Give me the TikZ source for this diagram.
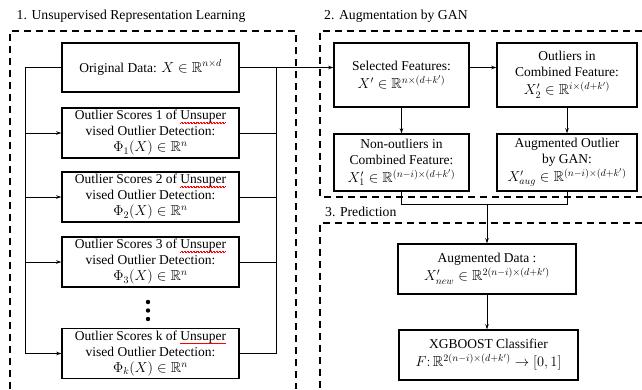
\documentclass[tikz,border=0pt]{standalone}
\usepackage{fontspec}
\setmainfont{Liberation Serif}
\usepackage{amssymb}
\usetikzlibrary{arrows.meta}
\newsavebox\wavebox
\newcommand\redwave[1]{\sbox\wavebox{#1}\makebox[\wd\wavebox][l]{\rlap{\color{red}\leaders\hbox{\rule[-3.1pt]{0.55pt}{0.4pt}\rule[-2.6pt]{0.55pt}{0.4pt}\hskip0.35pt}\hskip\wd\wavebox}\usebox\wavebox}}
\newcommand\fs{\fontsize{13.5}{16}\selectfont}
\newcommand\mth[1]{{\fontsize{14.5}{16}\selectfont$#1$}}
\tikzset{
  box/.style={draw, line width=1.5pt, align=center, inner sep=1pt, font=\fs},
  dbox/.style={line width=1.4pt, dash pattern=on 7pt off 5pt},
  conn/.style={line width=0.8pt},
  arr/.style={conn, -{Stealth[length=5pt,width=3.5pt]}},
  ttl/.style={anchor=west, font=\fontsize{13.7}{16}\selectfont, inner sep=0pt}
}
\begin{document}
\begin{tikzpicture}[x=1pt,y=-1pt]
\useasboundingbox (0,0) rectangle (642,389);
% dashed frames
\draw[dbox] (10,389) -- (10,31) -- (296,31) -- (296,389);
\draw[dbox] (642,31) -- (320,31) -- (320,197) -- (642,197);
\draw[dbox] (642,223) -- (320,223) -- (320,389);
% titles
\node[ttl] (t1) at (16.5,16) {1. Unsupervised Representation Learning};
\node[ttl] (t2) at (324,16) {2. Augmentation by GAN};
\node[ttl] (t3) at (325,212) {3. Prediction};
% left column
\node[box, minimum width=177pt, minimum height=49pt] (od) at (150.5,67.5) {Original Data: \mth{X \in \mathbb{R}^{n\times d}}};
\node[box, minimum width=177pt, minimum height=50pt] (s1) at (150.5,133) {Outlier Scores 1 of \redwave{Unsuper}\\ vised Outlier Detection:\\ \mth{\Phi_1(X) \in \mathbb{R}^{n}}};
\node[box, minimum width=177pt, minimum height=50pt] (s2) at (150.5,197) {Outlier Scores 2 of \redwave{Unsuper}\\ vised Outlier Detection:\\ \mth{\Phi_2(X) \in \mathbb{R}^{n}}};
\node[box, minimum width=177pt, minimum height=50pt] (s3) at (150.5,262) {Outlier Scores 3 of \redwave{Unsuper}\\ vised Outlier Detection:\\ \mth{\Phi_3(X) \in \mathbb{R}^{n}}};
\node[box, minimum width=177pt, minimum height=50pt] (sk) at (150.5,353.5) {Outlier Scores k of \redwave{Unsuper}\\ vised Outlier Detection:\\ \mth{\Phi_k(X) \in \mathbb{R}^{n}}};
\foreach \yy [count=\i] in {302,310.5,319} \fill (148,\yy) circle (2.2pt) coordinate (dot\i);
% buses
\coordinate (lb) at (25,0);
\coordinate (rb) at (276,0);
\draw[conn] (od.west) -- (od.west -| lb) -- (sk.west -| lb);
\foreach \n in {s1,s2,s3,sk} \draw[arr] (\n.west -| lb) -- (\n.west);
\draw[conn] (od.east -| rb) -- (sk.east -| rb);
\foreach \n in {s1,s2,s3,sk} \draw[conn] (\n.east) -- (\n.east -| rb);
% right part
\node[box, minimum width=135pt, minimum height=64pt] (sel) at (401.5,75) {Selected Features:\\[2pt] \mth{X' \in \mathbb{R}^{n\times(d+k')}}};
\node[box, minimum width=140pt, minimum height=64pt] (out) at (567,75) {Outliers in\\ Combined Feature:\\[2pt] \mth{X_2' \in \mathbb{R}^{i\times(d+k')}}};
\node[box, minimum width=135pt, minimum height=57pt] (non) at (401.5,162.5) {Non-outliers in\\ Combined Feature:\\[2pt] \mth{X_1' \in \mathbb{R}^{(n-i)\times(d+k')}}};
\node[box, minimum width=140pt, minimum height=57pt] (aug) at (567,162.5) {Augmented Outlier\\ by GAN:\\[2pt] \mth{X_{aug}' \in \mathbb{R}^{(n-i)\times(d+k')}}};
\node[box, minimum width=178pt, minimum height=50pt] (ad) at (487,269) {Augmented Data :\\[2pt] \mth{X_{new}' \in \mathbb{R}^{2(n-i)\times(d+k')}}};
\node[box, minimum width=179pt, minimum height=50pt] (xg) at (488.5,355) {XGBOOST Classifier\\[2pt] \mth{F\colon \mathbb{R}^{2(n-i)\times(d+k')} \rightarrow [0,1]}};
% connectors
\draw[arr] (od.east) -- (od.east -| sel.west);
\draw[arr] (sel.east |- od.east) -- (out.west |- od.east);
\draw[arr] (sel.south) -- (non.north);
\draw[arr] (out.south) -- (aug.north);
\coordinate (jy) at (0,204);
\coordinate (jm) at (ad.north |- jy);
\draw[conn] (non.south) -- (non.south |- jy) -- (aug.south |- jy) -- (aug.south);
\draw[arr] (jm) -- (ad.north);
\draw[arr] (ad.south) -- (xg.north -| ad.south);
\end{tikzpicture}
\end{document}
